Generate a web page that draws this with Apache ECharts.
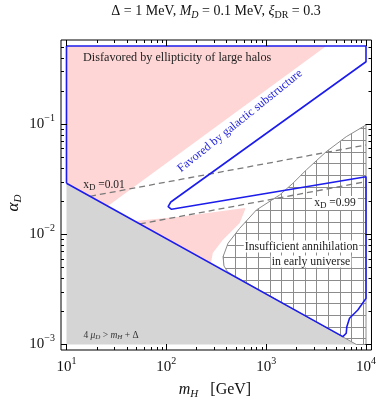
<!DOCTYPE html>
<html><head><meta charset="utf-8">
<script src="https://cdn.jsdelivr.net/npm/echarts@6/dist/echarts.min.js"></script>
<style>html,body{margin:0;padding:0;background:#fff}#c{width:379px;height:401px}</style>
</head><body><div id="c"></div>
<script>
// ---- data (m_H in GeV, alpha_D) ----
const grayRegion = [[10,0.029],[8000,0.001],[10,0.001]];
const pinkUpper = [[10,0.51],[4000,0.51],[26,0.0180],[10,0.029]];
const pinkLower = [[48.4,0.0132],[136.5,0.01442],[609,0.0173],[620,0.0170],[543,0.01264],[367,0.00887],[292,0.00676],[280,0.00548]];
const hatchRegion = [[10000,0.098],[6339,0.0767],[4000,0.0561],[2523,0.0383],[1854,0.029],[1365,0.0227],[798,0.0166],[543,0.01132],[415,0.00828],[370,0.00625],[378,0.00515],[410,0.00458],[455,0.0043],[8000,0.001],[10000,0.001]];
const favoredBoundary = [[10,0.029],[10,0.51],[10000,0.51],[10000,0.367],[110.9,0.0196],[108.4,0.0191],[104.2,0.01778],[106,0.0171],[112.7,0.01683],[10000,0.0332],[10000,0.00262],[8279,0.002056],[6839,0.001729],[6427,0.00145],[6339,0.001265],[5861,0.001178],[10,0.029]];
const xD001 = [[17.2,0.0221],[10000,0.0645]];
const xD099 = [[54.3,0.0124],[10000,0.030]];
// ---- axis ticks ----
const xMajorTicks = [10,100,1000,10000];
const xMinorTicks = [20,30,40,50,60,70,80,90,200,300,400,500,600,700,800,900,2000,3000,4000,5000,6000,7000,8000,9000];
const yMajorTicks = [0.001,0.01,0.1];
const yMinorTicks = [0.002,0.003,0.004,0.005,0.006,0.007,0.008,0.009,0.02,0.03,0.04,0.05,0.06,0.07,0.08,0.09,0.2,0.3,0.4,0.5];
const xRange = [8.81, 11350];
const yRange = [0.000891, 0.578];

const SERIF = "'Liberation Serif','DejaVu Serif',serif";
const BLUE = '#1c1ced';

const chart = echarts.init(document.getElementById('c'), null, {renderer:'canvas'});

// grid hatch pattern
const pat = document.createElement('canvas');
pat.width = 35; pat.height = 35;
(function(){
  const g = pat.getContext('2d');
  g.strokeStyle = '#8c8c8c'; g.lineWidth = 1;
  [1.5,13.5,25.5].forEach(x=>{g.beginPath();g.moveTo(x,0);g.lineTo(x,35);g.stroke();});
  [0.5,12.5,23.5].forEach(y=>{g.beginPath();g.moveTo(0,y);g.lineTo(35,y);g.stroke();});
})();

function polygonSeries(pts, style, z){
  return {type:'custom', coordinateSystem:'cartesian2d', silent:true, z:z, clip:true,
    data:[pts[0]],
    renderItem:function(params, api){
      return {type:'polygon', shape:{points: pts.map(p=>api.coord(p))}, style:style};
    }};
}
function tickSeries(values, isX, len){
  return {type:'custom', coordinateSystem:'cartesian2d', silent:true, clip:false, z:20,
    data: values.map(v=> isX ? [v, 0.01] : [100, v]),
    renderItem:function(params, api){
      const cs = params.coordSys;
      const p = api.coord([api.value(0), api.value(1)]);
      const st = {stroke:'#000', lineWidth:1};
      if (isX){
        const x = Math.round(p[0]) + 0.5;
        return {type:'group', children:[
          {type:'line', shape:{x1:x,y1:cs.y+cs.height,x2:x,y2:cs.y+cs.height-len}, style:st},
          {type:'line', shape:{x1:x,y1:cs.y,x2:x,y2:cs.y+len}, style:st}]};
      } else {
        const y = Math.round(p[1]) + 0.5;
        return {type:'group', children:[
          {type:'line', shape:{x1:cs.x,y1:y,x2:cs.x+len,y2:y}, style:st},
          {type:'line', shape:{x1:cs.x+cs.width,y1:y,x2:cs.x+cs.width-len,y2:y}, style:st}]};
      }
    }};
}
function powLabel(v){
  const e = Math.round(Math.log10(v));
  if (Math.abs(Math.log10(v) - e) > 1e-6) return '';
  return '{b|10}{s|' + (e < 0 ? '\u2212' + (-e) : e) + '}';
}
const labelRich = {
  b:{fontSize:15, fontFamily:SERIF, color:'#111', lineHeight:22, verticalAlign:'middle'},
  s:{fontSize:10, fontFamily:SERIF, color:'#111', lineHeight:10, verticalAlign:'top'}
};

const option = {
  animation:false,
  backgroundColor:'#fff',
  grid:{left:61, top:40, width:311, height:310, show:true, borderColor:'#000', borderWidth:1, backgroundColor:'transparent'},
  xAxis:{type:'log', logBase:10, min:xRange[0], max:xRange[1],
    axisLine:{show:false}, axisTick:{show:false}, splitLine:{show:false}, minorTick:{show:false},
    axisLabel:{formatter:powLabel, rich:labelRich, margin:6, showMinLabel:false, showMaxLabel:false}},
  yAxis:{type:'log', logBase:10, min:yRange[0], max:yRange[1],
    axisLine:{show:false}, axisTick:{show:false}, splitLine:{show:false}, minorTick:{show:false},
    axisLabel:{formatter:powLabel, rich:labelRich, margin:6, showMinLabel:false, showMaxLabel:false}},
  series:[
    polygonSeries(pinkUpper, {fill:'#ffd6d6'}, 1),
    polygonSeries(pinkLower, {fill:'#ffd6d6'}, 1),
    polygonSeries(grayRegion, {fill:'#d5d5d5'}, 1),
    polygonSeries(hatchRegion, {fill:{image:pat, repeat:'repeat'}, stroke:'#8c8c8c', lineWidth:1}, 2),
    {type:'line', data:xD001, symbol:'none', silent:true, z:3, lineStyle:{color:'#7a7a7a', width:1.3, type:[6,4]}},
    {type:'line', data:xD099, symbol:'none', silent:true, z:3, lineStyle:{color:'#7a7a7a', width:1.3, type:[6,4]}},
    {type:'line', data:favoredBoundary, symbol:'none', silent:true, z:4, lineStyle:{color:BLUE, width:1.6}},
    tickSeries(xMajorTicks, true, 6),
    tickSeries(xMinorTicks, true, 3),
    tickSeries(yMajorTicks, false, 6),
    tickSeries(yMinorTicks, false, 3)
  ],
  graphic:[
    {type:'text', x:216, y:11, z:50, style:{
      text:'{n|\u0394 = 1 MeV, }{i|M}{si|D}{n| = 0.1 MeV, }{i|\u03BE}{s|DR}{n| = 0.3}',
      align:'center', verticalAlign:'middle',
      rich:{
        n:{fontSize:14, fontFamily:SERIF, fill:'#111', lineHeight:18, verticalAlign:'middle'},
        i:{fontSize:14, fontFamily:SERIF, fontStyle:'italic', fill:'#111', lineHeight:18, verticalAlign:'middle'},
        si:{fontSize:10, fontFamily:SERIF, fontStyle:'italic', fill:'#111', lineHeight:9, verticalAlign:'bottom'},
        s:{fontSize:10, fontFamily:SERIF, fill:'#111', lineHeight:9, verticalAlign:'bottom'}
      }}},
    {type:'text', x:83, y:58, z:50, style:{text:'Disfavored by ellipticity of large halos', font:'12.2px '+SERIF, fill:'#222', align:'left', verticalAlign:'middle'}},
    {type:'text', x:240, y:121, z:50, rotation:38.8*Math.PI/180, originX:0, originY:0,
      style:{text:'Favored by galactic substructure', font:'12px '+SERIF, fill:'#2525e0', align:'center', verticalAlign:'middle'}},
    {type:'text', x:104, y:185, z:50, style:{
      text:'{n|x}{s|D}{n| =0.01}', align:'center', verticalAlign:'middle',
      rich:{n:{fontSize:11.5, fontFamily:SERIF, fill:'#222', lineHeight:14, verticalAlign:'middle'},
            s:{fontSize:9, fontFamily:SERIF, fill:'#222', lineHeight:9, verticalAlign:'bottom'}}}},
    {type:'text', x:335, y:203, z:50, style:{
      text:'{n|x}{s|D}{n| =0.99}', align:'center', verticalAlign:'middle', backgroundColor:'#fff', padding:[0,2],
      rich:{n:{fontSize:11.5, fontFamily:SERIF, fill:'#222', lineHeight:14, verticalAlign:'middle'},
            s:{fontSize:9, fontFamily:SERIF, fill:'#222', lineHeight:9, verticalAlign:'bottom'}}}},
    {type:'text', x:301.5, y:246.5, z:50, style:{text:'Insufficient annihilation', font:'11.8px '+SERIF, fill:'#222', align:'center', verticalAlign:'middle', backgroundColor:'#fff', padding:[0,1]}},
    {type:'text', x:311, y:261.5, z:50, style:{text:'in early universe', font:'11.8px '+SERIF, fill:'#222', align:'center', verticalAlign:'middle', backgroundColor:'#fff', padding:[0,1]}},
    {type:'text', x:111, y:335, z:50, style:{
      text:'{n|4 }{i|\u03BC}{s|D}{n| > }{i|m}{s|H}{n| + \u0394}', align:'center', verticalAlign:'middle',
      rich:{n:{fontSize:9.5, fontFamily:SERIF, fill:'#333', lineHeight:12, verticalAlign:'middle'},
            i:{fontSize:9.5, fontFamily:SERIF, fontStyle:'italic', fill:'#333', lineHeight:12, verticalAlign:'middle'},
            s:{fontSize:7, fontFamily:SERIF, fontStyle:'italic', fill:'#333', lineHeight:7, verticalAlign:'bottom'}}}},
    {type:'text', x:14, y:203, z:50, rotation:Math.PI/2, style:{
      text:'{i|\u03B1}{s|D}', align:'center', verticalAlign:'middle',
      rich:{i:{fontSize:17, fontFamily:SERIF, fontStyle:'italic', fill:'#111', lineHeight:20, verticalAlign:'middle'},
            s:{fontSize:11, fontFamily:SERIF, fontStyle:'italic', fill:'#111', lineHeight:11, verticalAlign:'bottom'}}}},
    {type:'text', x:215, y:390, z:50, style:{
      text:'{i|m}{s|H}{n|   [GeV]}', align:'center', verticalAlign:'middle',
      rich:{i:{fontSize:16, fontFamily:SERIF, fontStyle:'italic', fill:'#111', lineHeight:20, verticalAlign:'middle'},
            n:{fontSize:16, fontFamily:SERIF, fill:'#111', lineHeight:20, verticalAlign:'middle'},
            s:{fontSize:11, fontFamily:SERIF, fontStyle:'italic', fill:'#111', lineHeight:11, verticalAlign:'bottom'}}}}
  ]
};
chart.setOption(option);
</script>
</body></html>
